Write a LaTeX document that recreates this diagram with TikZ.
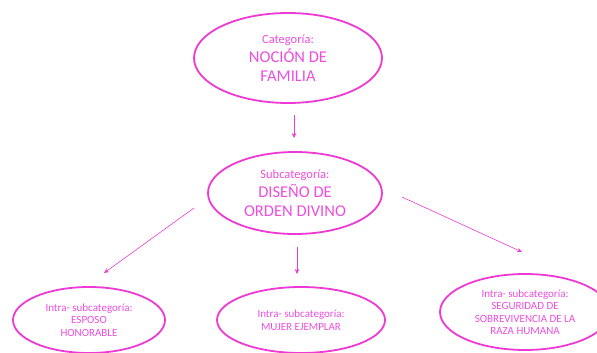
\documentclass[tikz,border=0pt]{standalone}
\usepackage{fontspec}
\setmainfont{Carlito}
\usetikzlibrary{shapes.geometric,arrows.meta}
\definecolor{rosa}{RGB}{238,58,212}
\definecolor{rosatxt}{RGB}{236,78,222}
\newcommand{\chico}{\fontsize{11}{12.5}\selectfont}
\newcommand{\medio}{\fontsize{12.5}{15}\selectfont}
\newcommand{\grande}{\fontsize{16.5}{19}\selectfont}
\tikzset{
  oval/.style={ellipse, draw=rosa, line width=1.8pt, inner sep=0pt, align=center, text=rosatxt},
  flecha/.style={rosa, line width=0.6pt, -{Stealth[length=5pt,width=4.5pt]}}
}
\begin{document}
\begin{tikzpicture}[x=1pt,y=-1pt]
\useasboundingbox (0,0) rectangle (597,353);
% categoria
\node[oval, minimum width=188pt, minimum height=90pt, font=\grande] (cat) at (288,58)
  {{\medio Categoría:}\\NOCIÓN DE\\FAMILIA};
% subcategoria
\node[oval, minimum width=174pt, minimum height=82pt, font=\grande] (sub) at (295,193)
  {{\medio Subcategoría:}\\DISEÑO DE\\ORDEN DIVINO};
% intra- subcategorias
\node[oval, minimum width=152pt, minimum height=66pt, font=\chico] (esposo) at (89,320)
  {Intra- subcategoría:\\ESPOSO\\HONORABLE};
\node[oval, minimum width=168pt, minimum height=66pt, font=\chico] (mujer) at (301,320)
  {Intra- subcategoría:\\MUJER EJEMPLAR};
\node[oval, minimum width=170pt, minimum height=76pt, font=\chico] (raza) at (525,312)
  {Intra- subcategoría:\\SEGURIDAD DE\\SOBREVIVENCIA DE LA\\RAZA HUMANA};
% flechas
\coordinate (c1) at (294,115);
\coordinate (c2) at (294,138);
\coordinate (s1) at (194,208);
\coordinate (e1) at (104,273);
\coordinate (s2) at (297,247);
\coordinate (m1) at (297,274);
\coordinate (s3) at (402,197);
\coordinate (r1) at (522,252);
\draw[flecha] (c1) -- (c2);
\draw[flecha] (s1) -- (e1);
\draw[flecha] (s2) -- (m1);
\draw[flecha] (s3) -- (r1);
\end{tikzpicture}
\end{document}
